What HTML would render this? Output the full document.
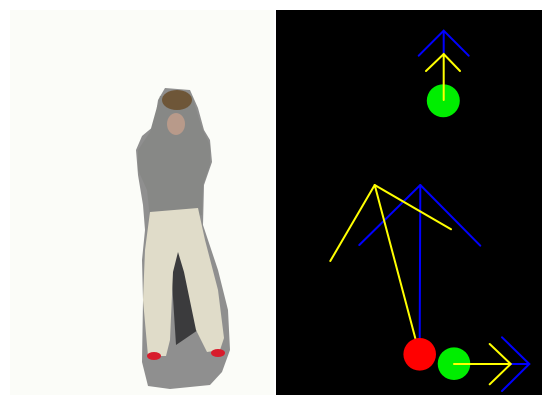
<!DOCTYPE html>
<html><head><meta charset="utf-8"><style>
html,body{margin:0;padding:0;background:#fff;}
svg{display:block}
</style></head><body>
<svg width="551" height="405" viewBox="0 0 551 405" xmlns="http://www.w3.org/2000/svg">
  <rect x="0" y="0" width="551" height="405" fill="#ffffff"/>
  <g>
    <rect x="10" y="10" width="264" height="385" fill="#fbfcf8"/>
    <polygon fill="#8f8f8f"
      points="165,88 190,90 198,108 204,130 210,140 212,162 204,185 203,225 218,270 228,310 230,350 222,372 210,385 170,389 148,386 142,362 143,300 142,260 145,230 143,205 138,175 136,150 142,136 154,126 158,100"/>
    <polygon fill="#878886"
      points="160,96 192,96 202,128 210,145 210,165 203,185 202,215 180,222 150,218 147,190 138,170 138,150 150,132"/>
    <polygon fill="#3b3b3d"
      points="170,250 186,248 198,330 176,345"/>
    <polygon fill="#e0dcc9"
      points="150,212 198,208 205,240 218,290 224,338 220,350 207,352 196,330 184,272 178,252 173,272 170,340 166,356 148,356 143,300 145,250"/>
    <ellipse cx="177" cy="100" rx="15" ry="10" fill="#6e5638"/>
    <ellipse cx="176" cy="124" rx="9" ry="11" fill="#b89a8a"/>
    <ellipse cx="154" cy="356" rx="7" ry="4" fill="#d81c2c"/>
    <ellipse cx="218" cy="353" rx="7" ry="4" fill="#d81c2c"/>
  </g>
  <g>
    <rect x="276" y="10" width="266" height="385" fill="#000000"/>
    <g stroke-width="2" fill="none" stroke-linecap="round">
      <polyline points="418.7,55.7 443.7,30.7 468.7,55.7" stroke="#0000ff"/>
      <line x1="443.7" y1="30.7" x2="443.7" y2="55" stroke="#0000ff"/>
      <circle cx="443.3" cy="100.7" r="16.5" fill="#00ee00" stroke="none"/>
      <polyline points="426,71 443.7,54 460,71" stroke="#ffff00"/>
      <line x1="443.7" y1="54" x2="443.7" y2="100" stroke="#ffff00"/>
      <line x1="420.3" y1="185" x2="359.3" y2="245" stroke="#0000ff"/>
      <line x1="420.3" y1="185" x2="480.3" y2="245.7" stroke="#0000ff"/>
      <line x1="420.3" y1="185" x2="419.7" y2="340" stroke="#0000ff"/>
      <line x1="374.7" y1="185" x2="330.3" y2="261" stroke="#ffff00"/>
      <line x1="374.7" y1="185" x2="451" y2="229.3" stroke="#ffff00"/>
      <line x1="374.7" y1="185" x2="415.3" y2="338.3" stroke="#ffff00"/>
      <circle cx="419.7" cy="354.3" r="16.3" fill="#ff0000" stroke="none"/>
      <circle cx="454" cy="363.7" r="16.3" fill="#00ee00" stroke="none"/>
      <line x1="510.7" y1="364" x2="529.3" y2="364" stroke="#0000ff"/>
      <polyline points="502,337.3 529.3,364 502,391" stroke="#0000ff"/>
      <line x1="454" y1="364" x2="510.7" y2="364" stroke="#ffff00"/>
      <polyline points="489.7,344 510.7,364 489.7,384.3" stroke="#ffff00"/>
    </g>
  </g>
</svg>
</body></html>
